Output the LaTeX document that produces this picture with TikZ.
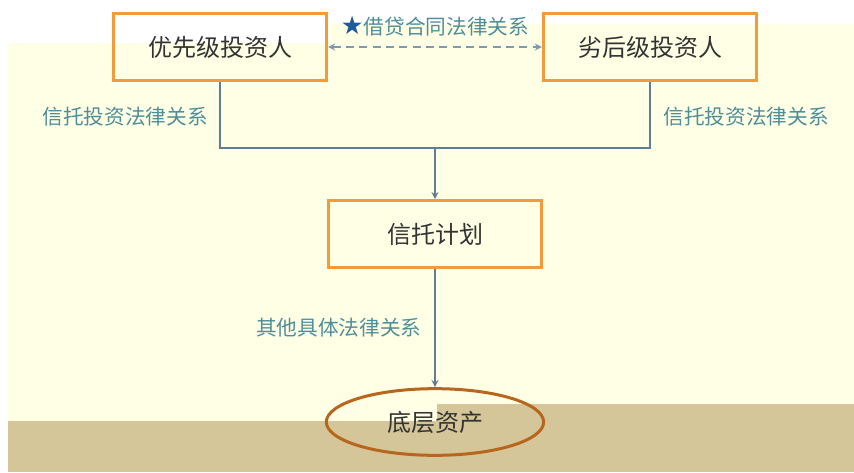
\documentclass[tikz,border=0pt]{standalone}
\usepackage{fontspec}
\setmainfont{Noto Sans CJK SC}
\newfontfamily\symfont{DejaVu Sans}
\usetikzlibrary{shapes.geometric,positioning}
\definecolor{cream}{HTML}{FFFFE6}
\definecolor{sand}{HTML}{D4C698}
\definecolor{boxorange}{HTML}{F29A3C}
\definecolor{linkblue}{HTML}{5F7D96}
\definecolor{dashblue}{HTML}{7D9AB2}
\definecolor{labelteal}{HTML}{4E8E98}
\definecolor{starblue}{HTML}{1E5A9A}
\definecolor{rimbrown}{HTML}{B8651E}

\tikzset{
  party/.style={draw=boxorange, line width=2.25pt, minimum width=160pt, minimum height=50pt,
    text=black!80, font=\fontsize{18}{18}\selectfont},
  relation/.style={text=labelteal, font=\fontsize{15.5}{16}\selectfont},
  link/.style={linkblue, line width=1.4pt},
}

\begin{document}
\begin{tikzpicture}[>=stealth, x=0.75pt, y=-0.75pt]
\useasboundingbox (0,0) rectangle (854,472);

% Background
\fill[white] (0,0) rectangle (854,472);
\fill[cream] (8,43) rectangle (854,421);
\fill[cream] (330,24) rectangle (854,404);
\fill[sand] (8,421) rectangle (854,472);
\fill[sand] (437,404) rectangle (854,421);

% Investors and trust
\node[party] (senior) at (220,47) {优先级投资人};
\node[party] (junior) at (650,47) {劣后级投资人};
\node[party] (plan) at (435,234) {信托计划};
\node[ellipse, draw=rimbrown, line width=2.25pt, minimum width=163pt, minimum height=50pt,
  inner sep=0pt, text=black!80, font=\fontsize{18}{18}\selectfont] (asset) at (435,422) {底层资产};

% Loan contract between investors
\draw[<->, dashblue, line width=1.3pt, dash pattern=on 6pt off 4pt] (senior) -- (junior)
  node[midway, above=4pt, relation] {{\symfont\fontsize{19}{19}\selectfont\color{starblue}★}借贷合同法律关系};

% Trust relations
\coordinate (join) at (435,148);
\draw[link] (senior.south) |- (join) -| (junior.south);
\draw[link, ->] (join) -- (plan);
\node[relation] (leftrel) at (125,117) {信托投资法律关系};
\node[relation] (rightrel) at (746,117) {信托投资法律关系};

% Plan to assets
\draw[link, ->] (plan) -- (asset)
  node[midway, left=6pt, relation] {其他具体法律关系};

\end{tikzpicture}
\end{document}
